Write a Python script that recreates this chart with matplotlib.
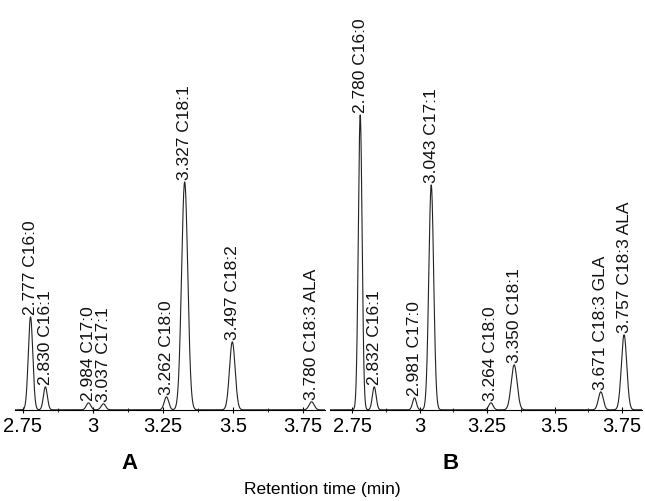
import numpy as np
import matplotlib
matplotlib.use('Agg')
import matplotlib.pyplot as plt
from matplotlib.ticker import MultipleLocator

plt.rcParams['font.family'] = ['Liberation Sans', 'DejaVu Sans']

# panel A peaks: retention time (min), height (arb.), width (sigma, min), label
rt_a = [2.777, 2.830, 2.984, 3.037, 3.262, 3.327, 3.497, 3.780]
h_a = [93, 23, 7, 6, 13, 228, 68, 8]
w_a = [0.008, 0.007, 0.008, 0.008, 0.008, 0.011, 0.010, 0.009]
lab_a = ['2.777 C16:0', '2.830 C16:1', '2.984 C17:0', '3.037 C17:1',
         '3.262 C18:0', '3.327 C18:1', '3.497 C18:2', '3.780 C18:3 ALA']

# panel B peaks
rt_b = [2.780, 2.832, 2.981, 3.043, 3.264, 3.350, 3.671, 3.757]
h_b = [295, 23, 12, 225, 7, 45, 18, 75]
w_b = [0.007, 0.007, 0.007, 0.009, 0.008, 0.011, 0.009, 0.010]
lab_b = ['2.780 C16:0', '2.832 C16:1', '2.981 C17:0', '3.043 C17:1',
         '3.264 C18:0', '3.350 C18:1', '3.671 C18:3 GLA', '3.757 C18:3 ALA']

ticks = [2.75, 3, 3.25, 3.5, 3.75]
tick_labels = ['2.75', '3', '3.25', '3.5', '3.75']

fig = plt.figure(figsize=(6.45, 5.01), dpi=100)
ax_a = fig.add_axes([0.023, 0.182, 0.481, 0.818])
ax_b = fig.add_axes([0.512, 0.182, 0.484, 0.818])


def draw(ax, rt, h, w, lab, xlim):
    x = np.linspace(xlim[0], xlim[1], 3000)
    y = np.zeros_like(x)
    for r, hh, ww in zip(rt, h, w):
        y += hh * np.exp(-0.5 * ((x - r) / ww) ** 2)
    ax.plot(x, y, color='#222222', lw=0.8)
    for r, hh, t in zip(rt, h, lab):
        ax.text(r, hh + 2, t, rotation=90, ha='center', va='bottom',
                fontsize=12.5, color='#111111')
    ax.set_xlim(xlim)
    ax.set_ylim(0, 410)
    for s in ['top', 'right', 'left']:
        ax.spines[s].set_visible(False)
    ax.spines['bottom'].set_linewidth(0.8)
    ax.set_yticks([])
    ax.set_xticks(ticks)
    ax.set_xticklabels(tick_labels)
    ax.xaxis.set_minor_locator(MultipleLocator(0.125))
    ax.tick_params(axis='x', which='major', direction='inout', length=5,
                   width=0.8, labelsize=14.5, pad=3)
    ax.tick_params(axis='x', which='minor', direction='inout', length=3,
                   width=0.6)


draw(ax_a, rt_a, h_a, w_a, lab_a, (2.721, 3.828))
draw(ax_b, rt_b, h_b, w_b, lab_b, (2.669, 3.825))

fig.text(0.20, 0.074, 'A', fontsize=16, fontweight='bold', ha='center', va='center')
fig.text(0.698, 0.074, 'B', fontsize=16, fontweight='bold', ha='center', va='center')
fig.text(0.5, 0.022, 'Retention time (min)', fontsize=12.5, ha='center', va='center')

fig.savefig('out.png', dpi=100)
